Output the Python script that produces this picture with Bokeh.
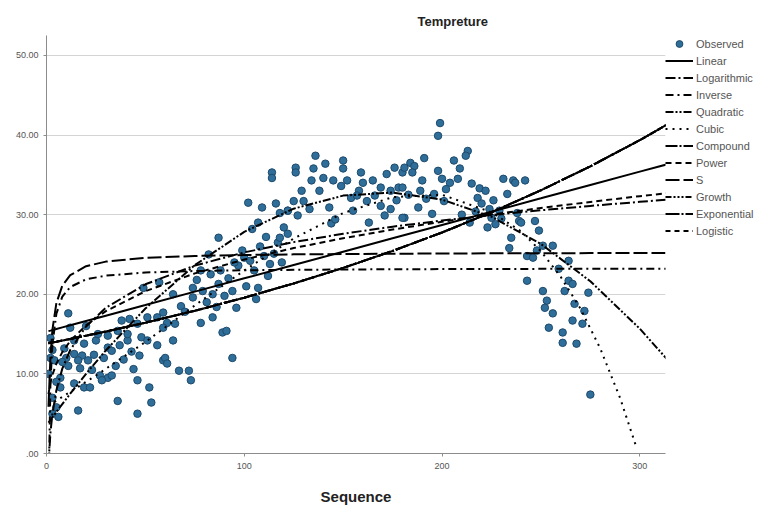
from bokeh.plotting import figure
from bokeh.models import (Legend, LegendItem, FixedTicker, CustomJSTickFormatter,
                          Range1d, Title)
from bokeh.embed import file_html
from bokeh.resources import INLINE

# ---------------- observed data (Sequence, Tempreture) ----------------
seq = [1, 2, 4, 10, 11, 14, 18, 14, 19, 25, 26, 31, 33, 37, 41, 16, 21, 17, 7, 7,
       14, 19, 22, 27, 31, 33, 28, 3, 5, 3, 16, 36, 46, 52, 53, 46, 47, 41, 46, 51,
       49, 57, 48, 51, 56, 59, 36, 31, 38, 42, 56, 59, 61, 11,
       2, 3, 5, 8, 6, 9, 12, 20, 23, 24, 29, 35, 39, 43, 44,
       114, 114, 102, 109, 116, 118, 122, 104, 107, 87, 99, 100, 103, 110, 115, 112, 107, 106,
       96, 94, 88, 87, 78, 74, 79, 84, 84, 78, 89, 91, 94, 67, 72, 73, 60, 61, 64, 59,
       65, 64, 74,
       68, 70, 76, 81, 83, 86, 92, 97, 101, 105, 108, 111, 113, 117, 119, 95, 90, 82,
       136, 126, 126, 135, 141, 150, 150, 140, 134, 138, 145, 149, 152, 159, 160, 158, 165,
       169, 172, 176, 180, 178, 174, 129, 125, 130, 122, 133, 143, 169, 174, 144, 171, 181,
       120, 122, 118, 127, 154, 157, 162, 166,
       146, 155, 163, 177, 183,
       199, 198, 213, 212, 206, 191, 184, 186, 181, 185, 198, 209, 208, 200, 204, 190, 180,
       189, 196, 215, 219, 222, 218, 220, 201, 188, 195, 180, 224, 229, 231, 236, 242, 233,
       238, 239, 223, 235, 234, 243, 243, 225,
       210, 214, 227, 230, 217, 226, 192, 202,
       237, 240, 247, 249, 251, 256, 246, 248, 259, 264, 264, 266, 251, 262, 274, 253, 252,
       267, 256, 272, 266, 271, 254, 261, 261, 268, 275]
temp = [10.0, 12.0, 11.7, 12.0, 11.0, 12.5, 12.3, 14.2, 13.8, 14.2, 15.0, 13.3, 12.9, 13.6,
        14.2, 11.7, 11.7, 10.7, 9.5, 8.3, 8.8, 8.3, 8.3, 9.8, 9.5, 9.8, 9.2, 7.0, 5.8, 5.0,
        5.4, 6.6, 5.0, 8.3, 6.4, 9.2, 12.3, 15.0, 16.3, 17.1, 20.8, 21.5, 14.6, 14.2, 13.6,
        11.7, 15.4, 14.8, 16.7, 16.9, 17.1, 17.7, 16.4, 17.6,
        14.5, 13.0, 9.0, 11.5, 4.6, 13.2, 15.8, 16.0, 10.5, 12.4, 12.0, 11.0, 11.8, 12.8, 10.6,
        35.3, 34.6, 31.5, 30.9, 31.4, 30.2, 30.5, 28.2, 29.0, 27.1, 25.5, 24.6, 24.2, 24.8,
        25.1, 22.3, 20.8, 19.4, 18.3, 20.4, 23.0, 21.3, 23.0, 20.8, 20.4, 20.0, 17.1, 16.4,
        15.2, 15.4, 12.0, 10.4, 10.4, 9.2, 12.0, 11.3, 14.2, 15.8, 16.3, 20.0, 19.6,
        18.5, 17.8, 21.8, 19.0, 22.5, 18.4, 22.0, 23.6, 21.0, 23.0, 26.0, 27.2, 23.8, 26.5,
        24.0, 24.0, 19.8, 25.0,
        37.4, 35.9, 35.3, 35.8, 36.4, 36.8, 35.8, 34.6, 34.3, 33.0, 34.3, 33.6, 34.3, 35.3,
        34.0, 33.0, 34.3, 33.4, 35.1, 35.9, 35.3, 33.4, 33.0, 33.0, 31.7, 31.7, 30.5, 30.7,
        30.9, 31.1, 30.7, 28.9, 29.9, 29.6, 28.4, 27.6, 27.1, 29.9, 32.1, 32.4, 31.7, 32.4,
        29.4, 30.5, 29.0, 31.8, 32.5,
        41.5, 39.9, 38.0, 37.4, 36.8, 37.1, 36.5, 36.1, 35.9, 35.3, 35.5, 35.8, 34.5, 34.5,
        34.0, 34.3, 33.4, 33.0, 32.6, 33.9, 33.3, 33.0, 32.1, 31.4, 31.7, 30.9, 30.1, 29.6,
        30.7, 30.5, 34.5, 34.3, 34.3, 32.6, 30.2, 29.2, 28.4, 27.1, 25.8, 21.7, 24.8, 29.6,
        30.0, 29.0, 28.8, 29.5, 30.4, 31.8, 32.0, 33.2,
        34.0, 29.0, 29.2, 28.0, 26.1, 26.1, 24.6, 25.5, 23.2, 24.2, 21.7, 21.3, 20.4, 20.4,
        20.2, 19.2, 18.3, 18.8, 17.6, 17.9, 16.7, 16.3, 15.8, 15.2, 13.9, 13.8, 7.4]

# ---------------- fitted curves ----------------
fit_x = [1, 2, 3, 5, 8, 12, 20, 30, 50, 75, 100, 125, 150, 175, 200, 225, 250, 275, 300, 315]
linear_y = [15.37, 15.43, 15.50, 15.64, 15.84, 16.10, 16.64, 17.31, 18.65, 20.33, 22.00,
            23.68, 25.35, 27.03, 28.70, 30.38, 32.05, 33.73, 35.40, 36.40]
log_y = [-1.36, 2.65, 4.99, 7.94, 10.66, 13.00, 15.96, 18.30, 21.25, 23.60, 25.26, 26.55,
         27.60, 28.49, 29.26, 29.94, 30.55, 31.10, 31.61, 31.89]
inverse_y = [-5.40, 8.95, 13.73, 17.56, 19.71, 20.91, 21.87, 22.34, 22.73, 22.92, 23.01,
             23.07, 23.11, 23.14, 23.16, 23.17, 23.19, 23.20, 23.20, 23.21]
quad_y = [3.87, 4.21, 4.55, 5.22, 6.21, 7.51, 10.01, 12.95, 18.21, 23.66, 27.84, 30.75,
          32.39, 32.77, 31.89, 29.74, 26.32, 21.63, 15.68, 11.50]
power_y = [7.46, 8.92, 9.89, 11.28, 12.73, 14.13, 16.11, 17.88, 20.39, 22.62, 24.36, 25.80,
           27.04, 28.13, 29.11, 30.01, 30.83, 31.60, 32.32, 32.72]
s_y = [5.87, 12.19, 15.55, 18.89, 21.08, 22.40, 23.52, 24.10, 24.57, 24.81, 24.93, 25.01,
       25.05, 25.09, 25.12, 25.14, 25.15, 25.17, 25.18, 25.18]
# compound, growth, exponential and logistic give the same curve
expo_y = [13.85, 13.90, 13.95, 14.04, 14.19, 14.39, 14.80, 15.32, 16.43, 17.93, 19.57,
          21.36, 23.31, 25.44, 27.76, 30.29, 33.06, 36.07, 39.36, 41.48]
cubic_x = [1, 25, 50, 75, 100, 125, 150, 175, 200, 225, 240, 250, 260, 270, 280, 290, 298]
cubic_y = [6.0, 9.8, 14.0, 18.6, 23.0, 27.0, 30.2, 32.2, 32.5, 30.3, 27.9, 25.4, 22.2,
           18.2, 13.2, 7.0, 1.0]

y_ticks = [0, 10, 20, 30, 40, 50]
x_ticks = [0, 100, 200, 300]

FONT = "Liberation Sans"

p = figure(frame_width=619, frame_height=418, output_backend="svg", toolbar_location=None,
           x_range=Range1d(0, 313), y_range=Range1d(0, 52.5),
           min_border_left=46, min_border_right=0, min_border_top=35,
           min_border_bottom=46, background_fill_color="white",
           border_fill_color="white")
p.outline_line_color = None
p.xgrid.grid_line_color = None
p.ygrid.grid_line_color = "#d4d4d4"
p.ygrid.ticker = FixedTicker(ticks=y_ticks)

for ax in (p.xaxis[0], p.yaxis[0]):
    ax.axis_line_color = "#8c8c8c"
    ax.major_tick_line_color = "#8c8c8c"
    ax.major_tick_in = 0
    ax.major_tick_out = 3
    ax.minor_tick_line_color = None
    ax.major_label_text_font = FONT
    ax.major_label_text_font_size = "9px"
    ax.major_label_text_color = "#555555"

p.yaxis.ticker = FixedTicker(ticks=y_ticks)
p.yaxis.formatter = CustomJSTickFormatter(code="return tick == 0 ? '.00' : tick.toFixed(2);")
p.yaxis.major_label_standoff = 5
p.xaxis.ticker = FixedTicker(ticks=x_ticks)
p.xaxis.major_label_standoff = 6
p.xaxis.axis_label = "Sequence"
p.xaxis.axis_label_text_font = FONT
p.xaxis.axis_label_text_font_style = "bold"
p.xaxis.axis_label_text_font_size = "15px"
p.xaxis.axis_label_text_color = "#222222"
p.xaxis.axis_label_standoff = 16

p.add_layout(Title(text="Tempreture", align="left", offset=371, standoff=14,
                   text_font=FONT, text_font_size="13px", text_font_style="bold",
                   text_color="#222222"), "above")

obs = p.scatter(seq, temp, size=7.5, marker="circle", fill_color="#2f6e99",
                line_color="#1d4a6c", line_width=1)

W = 2
r_lin = p.line(fit_x, linear_y, line_color="black", line_width=W)
r_log = p.line(fit_x, log_y, line_color="black", line_width=W, line_dash="10 3 2 3")
r_inv = p.line(fit_x, inverse_y, line_color="black", line_width=W, line_dash="8 4 2 4")
r_quad = p.line(fit_x, quad_y, line_color="black", line_width=W, line_dash="8 2 2 2 2 2")
r_cub = p.line(cubic_x, cubic_y, line_color="black", line_width=W, line_dash="2 5")
r_comp = p.line(fit_x, expo_y, line_color="black", line_width=W, line_dash="12 2 2 2")
r_pow = p.line(fit_x, power_y, line_color="black", line_width=W, line_dash="6 4")
r_s = p.line(fit_x, s_y, line_color="black", line_width=W, line_dash="14 4")
r_gro = p.line(fit_x, expo_y, line_color="black", line_width=W, line_dash="6 2 2 2 2 2 2 2")
r_exp = p.line(fit_x, expo_y, line_color="black", line_width=W, line_dash="14 2 2 2")
r_logi = p.line(fit_x, expo_y, line_color="black", line_width=W, line_dash="5 4")

items = [("Observed", obs), ("Linear", r_lin), ("Logarithmic", r_log), ("Inverse", r_inv),
         ("Quadratic", r_quad), ("Cubic", r_cub), ("Compound", r_comp), ("Power", r_pow),
         ("S", r_s), ("Growth", r_gro), ("Exponential", r_exp), ("Logistic", r_logi)]
legend = Legend(items=[LegendItem(label=l, renderers=[r]) for l, r in items],
                location="top_left", orientation="vertical",
                glyph_width=28, glyph_height=17, label_height=17, spacing=0,
                padding=2, margin=0, label_standoff=3,
                label_text_font=FONT, label_text_font_size="11px",
                label_text_color="#555555", border_line_color=None,
                background_fill_alpha=0)
p.add_layout(legend, "right")

open("out.html", "w").write(file_html(p, INLINE))
